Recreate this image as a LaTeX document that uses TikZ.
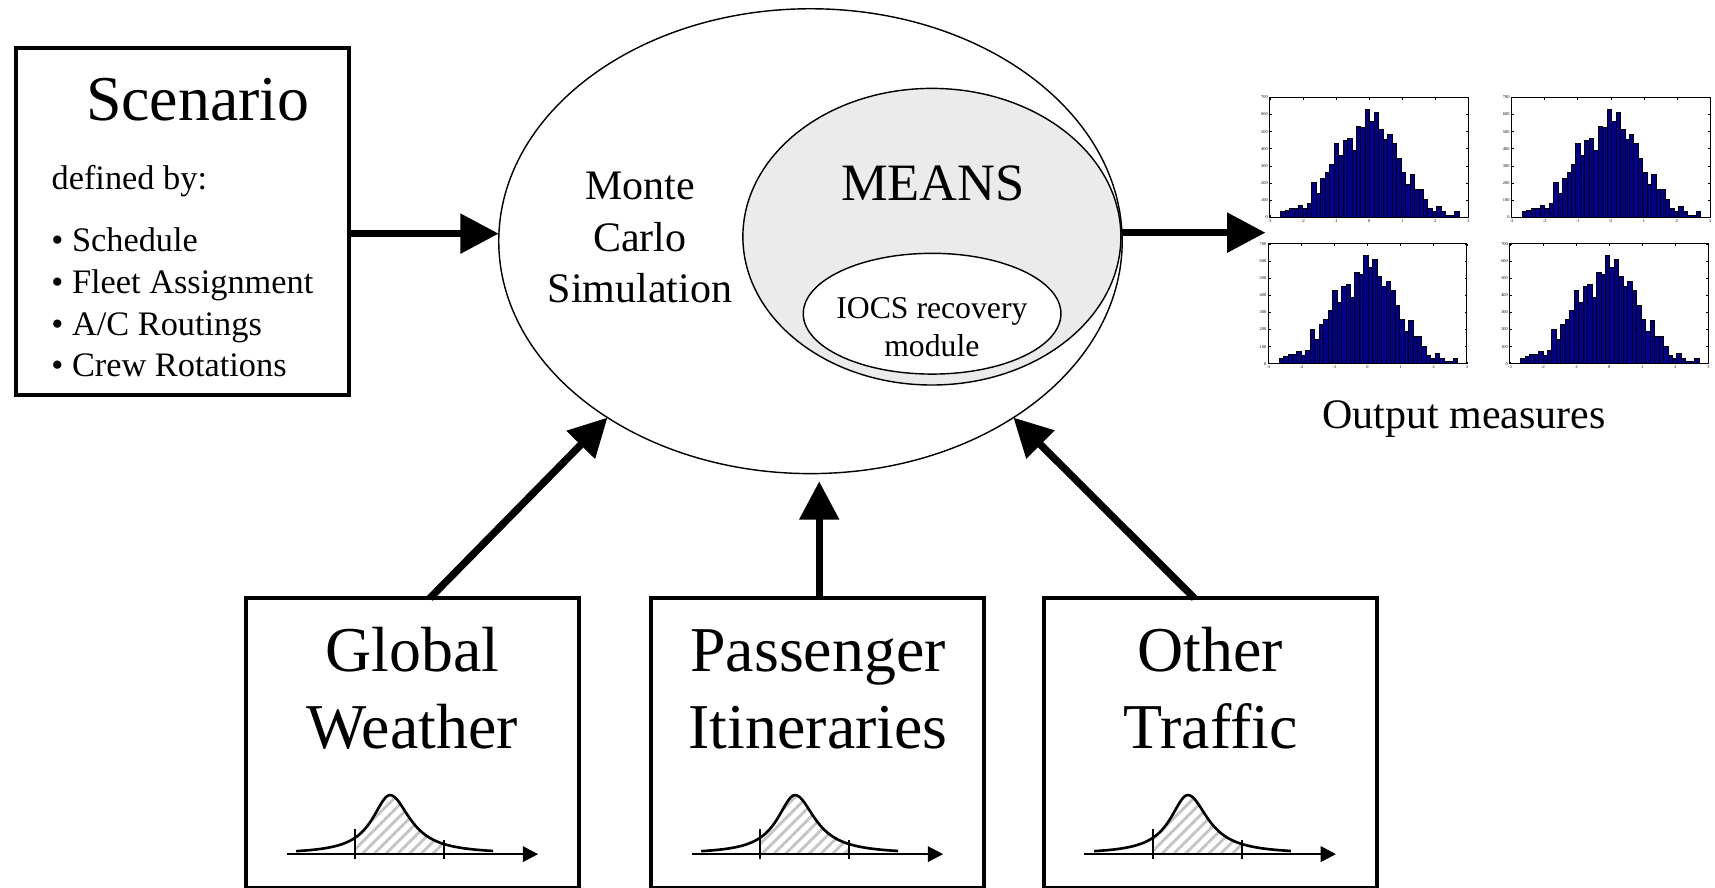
\documentclass[tikz,border=0pt]{standalone}
\usepackage{fontspec}
\setmainfont{Liberation Serif}
\usetikzlibrary{arrows.meta,shapes.geometric,patterns.meta}
\definecolor{meansgray}{HTML}{EBEBEB}
\definecolor{barblue}{RGB}{0,0,140}
\definecolor{hatchgray}{HTML}{C4C4C4}

\newcommand{\histo}[2]{%
\begin{scope}[shift={(#1)}]
  \foreach \v [count=\i from 0] in {31,41,53,53,70,51,80,202,141,229,260,311,431,361,451,461,390,531,524,631,561,612,512,453,482,431,341,261,190,251,161,161,102,51,31,61,31,12,12,31}
    \draw[histbar] ({9.77+\i*4.08},109.5) rectangle ({9.77+(\i+1)*4.08},{109.5-\v/700*109.5});
  \draw[histframe] (0,0) rectangle (181.5,109.5);
  \foreach \k [count=\j from 0] in {-3,-2,-1,0,1,2,3} {
    \draw[histtick] ({\j*30.25},109.5) -- ++(0,-2) ({\j*30.25},0) -- ++(0,2);
    \node[histlabel, anchor=north] (#2x\j) at ({\j*30.25},111) {\k};
  }
  \foreach \k [count=\j from 0] in {0,100,200,300,400,500,600,700} {
    \draw[histtick] (0,{109.5-\j*15.643}) -- ++(2,0) (181.5,{109.5-\j*15.643}) -- ++(-2,0);
    \node[histlabel, anchor=east] (#2y\j) at (-1.5,{109.5-\j*15.643}) {\k};
  }
\end{scope}}

\newcommand{\dist}[1]{%
\begin{scope}[shift={(#1.north west)}]
  \fill[pattern={Lines[angle=45,distance=3.8pt,line width=1.3pt]}, pattern color=hatchgray]
    (99.8,234) -- plot[domain=99.8:131.8,samples=30] (\x,{234-54/(1+((\x-131.8)/19.8)*((\x-131.8)/19.8))})
    -- plot[domain=131.8:181.2,samples=30] (\x,{234-54/(1+((\x-131.8)/22.4)*((\x-131.8)/22.4))})
    -- (181.2,234) -- cycle;
  \draw[distline] plot[domain=46:131.8,samples=60] (\x,{234-54/(1+((\x-131.8)/19.8)*((\x-131.8)/19.8))})
    -- plot[domain=131.8:226,samples=60] (\x,{234-54/(1+((\x-131.8)/22.4)*((\x-131.8)/22.4))});
  \draw[distaxis] (37.2,234) -- (267.2,234);
  \draw[distline] (99.8,211.2) -- (99.8,238.7) (181.2,221.2) -- (181.2,238.7);
\end{scope}}

\begin{document}
\begin{tikzpicture}[x=0.5pt,y=-0.5pt,
  box/.style={draw, line width=1.83pt, minimum width=152.2pt, minimum height=132.3pt, inner sep=0pt, outer sep=0pt},
  ell/.style={draw, ellipse, line width=0.65pt, inner sep=0pt, outer sep=0pt},
  bigarrow/.style={line width=3.35pt, -{Triangle[length=17.5pt,width=17.5pt]}},
  txt/.style={inner sep=0pt, outer sep=0pt, anchor=base},
  titletxt/.style={txt, font=\fontsize{29.2pt}{35pt}\selectfont},
  listtxt/.style={txt, anchor=base west, font=\fontsize{15.7pt}{19pt}\selectfont},
  mctxt/.style={txt, font=\fontsize{19.2pt}{23pt}\selectfont},
  histbar/.style={fill=barblue, draw=black, line width=0.35pt},
  histframe/.style={draw=black, line width=0.5pt},
  histtick/.style={line width=0.25pt},
  histlabel/.style={inner sep=0pt, font=\fontsize{2pt}{2.4pt}\selectfont},
  distline/.style={line width=1.2pt},
  distaxis/.style={line width=1.2pt, -{Triangle[length=7pt,width=7pt]}}
]
\fill[white] (0,0) rectangle (1568,811);
\useasboundingbox (0,0) rectangle (1568,811);

% boxes
\node[box, minimum height=158.7pt] (scen) at (167,202.5) {};
\node[box] (glob) at (377,679.2) {};
\node[box] (pass) at (747.3,679.2) {};
\node[box] (oth) at (1106.5,679.2) {};

% ellipses
\node[ell, fill=meansgray, minimum width=172.8pt, minimum height=135.6pt] (means) at (852,216.4) {};
\node[ell, fill=white, minimum width=117.8pt, minimum height=55.2pt] (iocs) at (852.2,286.8) {};
\node[ell, minimum width=285pt, minimum height=212.5pt] (mc) at (741,220.5) {};

% texts
\node[titletxt] (scentitle) at (180.8,110.3) {Scenario};
\node[listtxt] (defby) at (47.2,173) {defined by:};
\node[listtxt] (l1) at (47,230) {• Schedule};
\node[listtxt] (l2) at (47,268.5) {• Fleet Assignment};
\node[listtxt] (l3) at (47,306.3) {• A/C Routings};
\node[listtxt] (l4) at (47,344.4) {• Crew Rotations};

\node[mctxt] (mc1) at (585,182.5) {Monte};
\node[mctxt] (mc2) at (585,230) {Carlo};
\node[mctxt] (mc3) at (585,277) {Simulation};
\node[txt, font=\fontsize{24pt}{29pt}\selectfont] (meanst) at (853,183.5) {MEANS};
\node[txt, font=\fontsize{14.5pt}{17pt}\selectfont] (iocs1) at (852,290.8) {IOCS recovery};
\node[txt, font=\fontsize{14.5pt}{17pt}\selectfont] (iocs2) at (852,325.5) {module};
\node[mctxt] (outt) at (1338.5,392) {Output measures};

\node[titletxt] (g1) at (377,614) {Global};
\node[titletxt] (g2) at (377,684) {Weather};
\node[titletxt] (p1) at (748,614) {Passenger};
\node[titletxt] (p2) at (748,684) {Itineraries};
\node[titletxt] (o1) at (1106.5,614) {Other};
\node[titletxt] (o2) at (1107,684) {Traffic};

% distributions
\dist{glob}
\dist{pass}
\dist{oth}

% histograms
\histo{1161,89}{ha}
\histo{1382,89}{hb}
\histo{1159.6,223}{hc}
\histo{1380.5,223}{hd}

% arrows
\coordinate (inlvl) at (0,213.6);
\coordinate (otip) at (1157,212.7);
\draw[bigarrow] (scen.east |- inlvl) -- (mc.west |- inlvl);
\draw[bigarrow] (mc.east |- otip) -- (otip);
\draw[bigarrow] ([xshift=8pt]glob.north) -- (mc.221.4);
\draw[bigarrow, shorten >=3.5pt] ([xshift=0.85pt]pass.north) -- ([xshift=0.85pt]pass.north |- mc.south);
\draw[bigarrow] ([xshift=-7.25pt]oth.north) -- (mc.319.1);
\end{tikzpicture}
\end{document}
